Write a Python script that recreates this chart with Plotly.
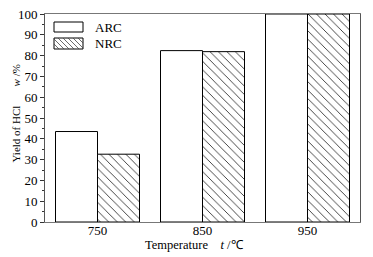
import plotly.graph_objects as go

categories = ["750", "850", "950"]
arc_values = [43.5, 82.4, 100]
nrc_values = [32.6, 81.9, 100]
series_names = ["ARC", "NRC"]
x_title = "Temperature&nbsp;&nbsp;&nbsp;&nbsp;<i>t</i> /℃"
y_title = "Yield of HCl&nbsp;&nbsp;&nbsp;&nbsp;&nbsp;&nbsp;&nbsp;<i>w</i> /%"

FONT = "Liberation Serif"

fig = go.Figure()
fig.add_trace(go.Bar(
    x=categories, y=arc_values, name=series_names[0],
    marker=dict(color="white", line=dict(color="black", width=1)),
    showlegend=False,
))
fig.add_trace(go.Bar(
    x=categories, y=nrc_values, name=series_names[1],
    marker=dict(color="white", line=dict(color="black", width=1),
                pattern=dict(shape="\\", fgcolor="#333", bgcolor="white",
                             size=6, solidity=0.15)),
    showlegend=False,
))

# plot area geometry (pixels) for the custom legend and titles
L, R, T, B = 45, 360, 14, 222
W, H = R - L, B - T


def px(x):
    return (x - L) / W


def py(y):
    return (B - y) / H


shapes = []
shapes.append(dict(type="rect", xref="paper", yref="paper",
                   x0=px(54), x1=px(83), y0=py(32), y1=py(22),
                   line=dict(color="black", width=1), fillcolor="white"))
bx0, bx1, by0, by1 = 54, 83, 38, 49
shapes.append(dict(type="rect", xref="paper", yref="paper",
                   x0=px(bx0), x1=px(bx1), y0=py(by1), y1=py(by0),
                   line=dict(color="black", width=1), fillcolor="white"))
h = by1 - by0
path = ""
s = bx0 - h
while s < bx1:
    xa, ya = s, by0
    xb, yb = s + h, by1
    if xa < bx0:
        ya = ya + (bx0 - xa)
        xa = bx0
    if xb > bx1:
        yb = yb - (xb - bx1)
        xb = bx1
    if xb > xa:
        path += f"M{px(xa):.4f},{py(ya):.4f}L{px(xb):.4f},{py(yb):.4f}"
    s += 5
shapes.append(dict(type="path", xref="paper", yref="paper", path=path,
                   line=dict(color="#444", width=0.8)))

annotations = [
    dict(xref="paper", yref="paper", x=px(93), y=py(27), text=series_names[0],
         showarrow=False, xanchor="left", yanchor="middle",
         font=dict(family=FONT, size=13, color="black")),
    dict(xref="paper", yref="paper", x=px(93), y=py(43.5), text=series_names[1],
         showarrow=False, xanchor="left", yanchor="middle",
         font=dict(family=FONT, size=13, color="black")),
    dict(xref="paper", yref="paper", x=px(194), y=py(245), text=x_title,
         showarrow=False, xanchor="center", yanchor="middle",
         font=dict(family=FONT, size=12.5, color="black")),
    dict(xref="paper", yref="paper", x=px(15), y=py(113.5), text=y_title,
         showarrow=False, xanchor="center", yanchor="middle", textangle=-90,
         font=dict(family=FONT, size=11, color="black")),
]

fig.update_layout(
    template="none",
    width=373, height=257,
    margin=dict(l=L, r=373 - R, t=T, b=257 - B, autoexpand=False),
    paper_bgcolor="white", plot_bgcolor="white",
    barmode="group", bargap=0.2, bargroupgap=0,
    font=dict(family=FONT, size=13, color="black"),
    shapes=shapes, annotations=annotations,
    showlegend=False,
    xaxis=dict(
        type="category", range=[-0.5, 2.5], automargin=False,
        showline=True, linecolor="#777", linewidth=1, mirror=True,
        ticks="", showgrid=False, zeroline=False, ticklabelstandoff=-4,
        tickfont=dict(family=FONT, size=13),
    ),
    yaxis=dict(
        range=[0, 100], dtick=10, automargin=False,
        showline=True, linecolor="#555", linewidth=1, mirror=True,
        ticks="outside", ticklen=4, tickcolor="#333", tickwidth=1,
        minor=dict(dtick=5, ticks="outside", ticklen=2, tickcolor="#333"),
        showgrid=False, zeroline=False,
        tickfont=dict(family=FONT, size=13),
    ),
)

fig.write_html("out.html", config={"displayModeBar": False},
               post_script="document.body.style.margin='0';document.body.style.padding='0';")
